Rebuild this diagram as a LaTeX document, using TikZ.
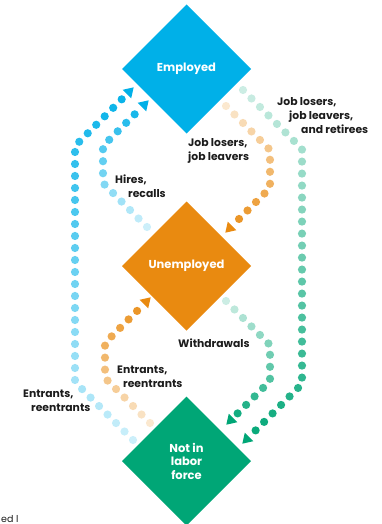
\documentclass[tikz,border=0pt]{standalone}
\usepackage{fontspec}
\setmainfont{Poppins}
\usetikzlibrary{shapes.geometric, decorations.markings, calc}

\definecolor{empblue}{RGB}{0,176,232}
\definecolor{unemporange}{RGB}{233,138,16}
\definecolor{nilfgreen}{RGB}{0,166,118}
\definecolor{labelgray}{RGB}{28,28,28}

\begin{document}
\begin{tikzpicture}[
        x=1pt, y=-1pt,
        state/.style={diamond, aspect=1, minimum width=129pt, minimum height=129pt, inner sep=0pt, outer sep=0pt, text=white, align=center, font=\bfseries\fontsize{11.5}{13.5}\selectfont},
        flowlabel/.style={anchor=north west, inner sep=0pt, align=left, text=labelgray, font=\bfseries\fontsize{10.8}{14}\selectfont},
        flow/.style={decoration={markings,
            mark=between positions 0 and -14pt step 12pt with {
                \pgfmathtruncatemacro\mixpct{20+80*(\pgfkeysvalueof{/pgf/decoration/mark info/distance from start}/\pgfdecoratedpathlength)}
                \fill[#1!\mixpct!white] (0,0) circle (4.1pt);},
            mark=at position 1 with {\fill[#1] (1pt,0pt) -- (-8.5pt,6pt) -- (-8.5pt,-6pt) -- cycle;}},
            postaction={decorate}}
    ]
    \useasboundingbox (0,0) rectangle (381,524);

    % States
    \node[state, fill=empblue] (emp) at (186.5,69) {Employed};
    \node[state, fill=unemporange] (unemp) at (186.5,266) {Unemployed};
    \node[state, fill=nilfgreen] (nilf) at (186.5,461) {Not in\\labor\\force};

    % Flows into employment
    \path[flow=empblue] ($(unemp)+(-39.5,-39)$) -- ++(-44,-44) -- ++(0,-37) -- ($(emp)+(-38.5,32)$);
    \path[flow=empblue] ($(nilf)+(-53.5,-21)$) -- ++(-58,-58) -- ++(0,-236) -- ($(emp)+(-53.5,19)$);

    % Flows into unemployment
    \path[flow=unemporange] ($(nilf)+(-36.5,-38)$) -- ++(-45,-45) -- ++(0,-35) -- ($(unemp)+(-36.5,32)$);
    \path[flow=unemporange] ($(emp)+(39.5,37)$) -- ++(44,44) -- ++(0,38) -- ($(unemp)+(39.5,-34)$);

    % Flows out of the labor force
    \path[flow=nilfgreen] ($(emp)+(56.5,21)$) -- ++(59,59) -- ++(0,235) -- ($(nilf)+(56.5,-18)$);
    \path[flow=nilfgreen] ($(unemp)+(39.5,35)$) -- ++(44,44) -- ++(0,36) -- ($(nilf)+(40.5,-37)$);

    % Labels
    \node[flowlabel] (hires) at (115,175) {Hires,\\\hspace*{13pt}recalls};
    \node[flowlabel] (outentr) at (23,390) {Entrants,\\\hspace*{8pt}reentrants};
    \node[flowlabel] (inentr) at (117,366) {Entrants,\\\hspace*{6pt}reentrants};
    \node[flowlabel] (losers) at (188,138) {Job losers,\\job leavers};
    \node[flowlabel] (retirees) at (277,97) {Job losers,\\\hspace*{12pt}job leavers,\\\hspace*{24pt}and retirees};
    \node[flowlabel] (withdr) at (178,339) {Withdrawals};

    \node[anchor=base west, inner sep=0pt, text=labelgray, font=\fontsize{9.5}{12}\selectfont] (cut) at (1,522) {ed l};
\end{tikzpicture}
\end{document}
